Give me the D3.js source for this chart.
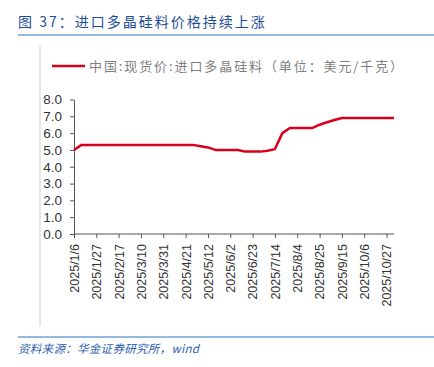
<!DOCTYPE html>
<meta charset="utf-8">
<style>
    body { margin: 0; background: #fff; }
    svg { font-family: "Liberation Sans", Arial, sans-serif; }
    .axis path, .axis line { stroke: #555; }
    .axis text { fill: #333; font-size: 12.5px; }
    .axis.y text { font-size: 13.5px; }
</style>
<body>
<svg width="434" height="367"></svg>
<script src="https://cdn.jsdelivr.net/npm/d3@7"></script>
<script>
    // weekly dates, 2025/1/6 .. 2025/11/3
    var dates = ["2025/1/6", "2025/1/13", "2025/1/20", "2025/1/27", "2025/2/3", "2025/2/10", "2025/2/17",
        "2025/2/24", "2025/3/3", "2025/3/10", "2025/3/17", "2025/3/24", "2025/3/31", "2025/4/7",
        "2025/4/14", "2025/4/21", "2025/4/28", "2025/5/5", "2025/5/12", "2025/5/19", "2025/5/26",
        "2025/6/2", "2025/6/9", "2025/6/16", "2025/6/23", "2025/6/30", "2025/7/7", "2025/7/14",
        "2025/7/21", "2025/7/28", "2025/8/4", "2025/8/11", "2025/8/18", "2025/8/25", "2025/9/1",
        "2025/9/8", "2025/9/15", "2025/9/22", "2025/9/29", "2025/10/6", "2025/10/13", "2025/10/20",
        "2025/10/27", "2025/11/3"];
    var prices = [5.0, 5.3, 5.3, 5.3, 5.3, 5.3, 5.3, 5.3, 5.3, 5.3, 5.3, 5.3, 5.3, 5.3,
        5.3, 5.3, 5.3, 5.22, 5.15, 5.0, 5.0, 5.0, 5.0, 4.9, 4.9, 4.9, 4.95, 5.05,
        6.0, 6.3, 6.3, 6.3, 6.3, 6.5, 6.65, 6.78, 6.9, 6.9, 6.9, 6.9, 6.9, 6.9,
        6.9, 6.9];
    var tickDates = dates.filter(function (d, i) { return i % 3 === 0 && i < 43; });
    var yTicks = [0, 1, 2, 3, 4, 5, 6, 7, 8];

    var title = "图 37：进口多晶硅料价格持续上涨";
    var legendLabel = "中国:现货价:进口多晶硅料（单位：美元/千克）";
    var source = "资料来源：华金证券研究所，wind";

    var svg = d3.select("svg");
    var plot = { left: 74, right: 394, top: 99.5, bottom: 234 };

    var x = d3.scalePoint().domain(dates).range([plot.left, plot.right]);
    var y = d3.scaleLinear().domain([0, 8]).range([plot.bottom, plot.top]);

    // title and frame lines
    svg.append("text")
        .attr("x", 18).attr("y", 27)
        .attr("fill", "#1f4e99")
        .style("font-family", "'Noto Sans CJK SC', sans-serif")
        .style("font-size", "14px")
        .style("letter-spacing", "2px")
        .text(title);
    svg.append("line")
        .attr("x1", 18).attr("x2", 434).attr("y1", 35).attr("y2", 35)
        .attr("stroke", "#6fa5d6").attr("stroke-width", 1.5);
    svg.append("line")
        .attr("x1", 40).attr("x2", 40).attr("y1", 45).attr("y2", 326)
        .attr("stroke", "#d0d0d0").attr("stroke-width", 1);
    svg.append("line")
        .attr("x1", 18).attr("x2", 434).attr("y1", 337).attr("y2", 337)
        .attr("stroke", "#6fa5d6").attr("stroke-width", 1.5);
    svg.append("text")
        .attr("x", 18).attr("y", 353)
        .attr("fill", "#2e5fae")
        .style("font-family", "'Noto Sans CJK SC', sans-serif")
        .style("font-style", "italic")
        .style("font-size", "11.5px")
        .style("letter-spacing", "0.3px")
        .text(source);

    // legend
    svg.append("line")
        .attr("x1", 52).attr("x2", 85).attr("y1", 66).attr("y2", 66)
        .attr("stroke", "#d9001b").attr("stroke-width", 2.5);
    svg.append("text")
        .attr("x", 89).attr("y", 71)
        .attr("fill", "#7f7f7f")
        .style("font-family", "'Noto Sans CJK SC', sans-serif")
        .style("font-size", "13px")
        .style("letter-spacing", "1.9px")
        .text(legendLabel);

    // axes
    var yAxis = svg.append("g")
        .attr("class", "axis y")
        .attr("transform", "translate(" + plot.left + ",0)")
        .call(d3.axisLeft(y).tickValues(yTicks).tickSize(4).tickSizeOuter(0)
            .tickFormat(d3.format(".1f")));
    yAxis.selectAll("text").attr("x", -12);

    var xAxis = svg.append("g")
        .attr("class", "axis")
        .attr("transform", "translate(0," + plot.bottom + ")")
        .call(d3.axisBottom(x).tickValues(tickDates).tickSize(4).tickSizeOuter(0));
    xAxis.select(".domain").attr("d", "M" + plot.left + ",0H" + plot.right);
    xAxis.selectAll("text")
        .attr("transform", "rotate(-90)")
        .attr("x", -10).attr("y", 0).attr("dy", "0.35em")
        .style("text-anchor", "end");

    // series
    var line = d3.line()
        .x(function (d, i) { return x(dates[i]); })
        .y(function (d) { return y(d); });
    svg.append("path")
        .datum(prices)
        .attr("fill", "none")
        .attr("stroke", "#d9001b")
        .attr("stroke-width", 2.5)
        .attr("stroke-linejoin", "round")
        .attr("d", line);
</script>
</body>
